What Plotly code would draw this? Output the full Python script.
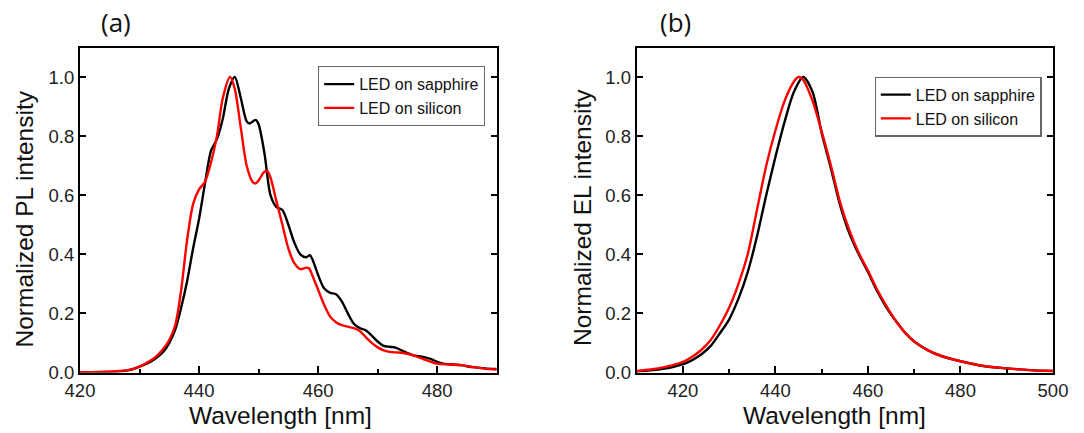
import plotly.graph_objects as go

# ---------------- data ----------------
series_names = ["LED on sapphire", "LED on silicon"]
panel_labels = ["(a)", "(b)"]
x_title = "Wavelength [nm]"
y_titles = ["Normalized PL intensity", "Normalized EL intensity"]

pl_wl_sapphire = [420, 422, 424, 426, 428, 429, 430, 431, 432, 433, 434, 435, 436, 437, 438, 439,
                  440, 441, 442, 443, 444, 445, 446, 447, 448, 448.5, 449.5, 450, 451, 452, 453,
                  454, 455, 456, 457, 458, 458.6, 459, 460, 461, 462, 463, 464, 465, 466, 467,
                  468, 469, 470, 471, 472, 473, 474, 475, 476, 477, 478, 479, 480, 481, 482,
                  484, 486, 488, 490]
pl_sapphire = [0.0, 0.001, 0.002, 0.003, 0.007, 0.012, 0.02, 0.028, 0.038, 0.052, 0.07, 0.1,
               0.145, 0.22, 0.31, 0.42, 0.52, 0.64, 0.75, 0.79, 0.86, 0.96, 1.0, 0.93, 0.85,
               0.843, 0.855, 0.84, 0.74, 0.6, 0.56, 0.55, 0.5, 0.44, 0.40, 0.39, 0.397, 0.385,
               0.33, 0.285, 0.27, 0.265, 0.24, 0.2, 0.165, 0.15, 0.143, 0.125, 0.105, 0.09,
               0.087, 0.084, 0.075, 0.066, 0.058, 0.055, 0.051, 0.045, 0.036, 0.03, 0.028,
               0.025, 0.018, 0.014, 0.012]

pl_wl_silicon = [420, 422, 424, 426, 428, 429, 430, 431, 432, 433, 434, 435, 436, 437, 438, 439,
                 440, 441, 442, 443, 444, 445.2, 446, 447, 448, 449, 449.5, 450, 451, 451.5, 452,
                 453, 454, 455, 456, 457, 458, 458.5, 459, 460, 461, 462, 463, 464, 465, 466,
                 467, 468, 469, 470, 471, 472, 473, 474, 475, 476, 477, 478, 479, 480, 482,
                 484, 486, 488, 490]
pl_silicon = [0.0, 0.001, 0.002, 0.004, 0.008, 0.013, 0.02, 0.03, 0.042, 0.058, 0.08, 0.11,
              0.16, 0.28, 0.45, 0.57, 0.62, 0.645, 0.71, 0.8, 0.93, 1.0, 0.96, 0.83, 0.7,
              0.645, 0.64, 0.65, 0.68, 0.681, 0.66, 0.58, 0.5, 0.42, 0.37, 0.35, 0.355, 0.352,
              0.33, 0.28, 0.23, 0.19, 0.17, 0.16, 0.155, 0.15, 0.14, 0.12, 0.1, 0.085, 0.075,
              0.07, 0.068, 0.067, 0.063, 0.058, 0.05, 0.043, 0.036, 0.03, 0.027, 0.025,
              0.018, 0.013, 0.01]

el_wl_sapphire = [410, 413, 416, 418, 420, 422, 424, 426, 428, 430, 432, 434, 436, 438, 440,
                  442, 444, 446, 448, 450, 452, 454, 456, 458, 460, 462, 464, 466, 468, 470,
                  473, 476, 480, 485, 490, 495, 500]
el_sapphire = [0.003, 0.007, 0.013, 0.019, 0.028, 0.042, 0.062, 0.09, 0.133, 0.18, 0.25, 0.34,
               0.46, 0.6, 0.73, 0.85, 0.95, 1.0, 0.95, 0.81, 0.69, 0.565, 0.47, 0.40, 0.34,
               0.275, 0.22, 0.175, 0.135, 0.105, 0.075, 0.055, 0.038, 0.022, 0.014, 0.008,
               0.005]

el_wl_silicon = [410, 413, 416, 418, 420, 422, 424, 426, 428, 430, 432, 434, 436, 438, 440,
                 442, 444, 445, 446, 448, 450, 452, 454, 456, 458, 460, 462, 464, 466, 468,
                 470, 473, 476, 480, 485, 490, 495, 500]
el_silicon = [0.005, 0.01, 0.018, 0.026, 0.036, 0.053, 0.077, 0.11, 0.16, 0.22, 0.3, 0.4,
              0.55, 0.7, 0.82, 0.92, 0.985, 1.0, 0.99, 0.92, 0.815, 0.70, 0.575, 0.48, 0.405,
              0.345, 0.28, 0.225, 0.175, 0.135, 0.105, 0.075, 0.055, 0.038, 0.022, 0.014,
              0.008, 0.005]

x_ranges = [[420, 490], [410, 500]]
y_range = [0, 1.1]
y_ticks = [0.0, 0.2, 0.4, 0.6, 0.8, 1.0]

# ---------------- figure ----------------
W, H = 1084, 433
def px(x): return x / W
def py(y): return 1 - y / H

colors = ["#000000", "#ff0000"]
FONT = "Liberation Sans"

fig = go.Figure()
fig.add_trace(go.Scatter(x=pl_wl_sapphire, y=pl_sapphire, name=series_names[0], mode="lines",
                         line=dict(color=colors[0], width=2.4, shape="spline", smoothing=0.8),
                         xaxis="x", yaxis="y", legend="legend"))
fig.add_trace(go.Scatter(x=pl_wl_silicon, y=pl_silicon, name=series_names[1], mode="lines",
                         line=dict(color=colors[1], width=2.4, shape="spline", smoothing=0.8),
                         xaxis="x", yaxis="y", legend="legend"))
fig.add_trace(go.Scatter(x=el_wl_sapphire, y=el_sapphire, name=series_names[0], mode="lines",
                         line=dict(color=colors[0], width=2.4, shape="spline", smoothing=0.8),
                         xaxis="x2", yaxis="y2", legend="legend2"))
fig.add_trace(go.Scatter(x=el_wl_silicon, y=el_silicon, name=series_names[1], mode="lines",
                         line=dict(color=colors[1], width=2.4, shape="spline", smoothing=0.8),
                         xaxis="x2", yaxis="y2", legend="legend2"))

ydom = [py(372.5), py(47.5)]
xdoms = [[px(80), px(496.7)], [px(636.7), px(1053)]]

def xaxis_cfg(i):
    return dict(domain=xdoms[i], range=x_ranges[i], showline=True, linecolor="black",
                linewidth=2, mirror=True, ticks="inside", ticklen=7, tickwidth=1.6,
                tickcolor="black", dtick=20, tick0=420, showgrid=False, zeroline=False,
                automargin=False,
                tickfont=dict(family=FONT, size=18.5, color="#222"),
                minor=dict(dtick=10, tick0=420, ticks="inside", ticklen=4, tickwidth=1.6,
                           tickcolor="black", showgrid=False),
                anchor="y" if i == 0 else "y2")

def yaxis_cfg(i):
    return dict(domain=ydom, range=y_range, showline=True, linecolor="black", linewidth=2,
                mirror="ticks", ticks="inside", ticklen=6, tickwidth=1.6, tickcolor="black",
                tickvals=y_ticks, tickformat=".1f", showgrid=False, zeroline=False,
                automargin=False,
                tickfont=dict(family=FONT, size=18.5, color="#222"),
                anchor="x" if i == 0 else "x2")

legend_common = dict(font=dict(family=FONT, size=16, color="#111"), bgcolor="white",
                     bordercolor="#666", borderwidth=1.2, xanchor="right", yanchor="top",
                     tracegroupgap=0, itemclick=False)

fig.update_layout(
    template="none",
    width=W, height=H, margin=dict(l=0, r=0, t=0, b=0, autoexpand=False),
    paper_bgcolor="white", plot_bgcolor="white",
    font=dict(family=FONT, color="#111"),
    xaxis=xaxis_cfg(0), yaxis=yaxis_cfg(0),
    xaxis2=xaxis_cfg(1), yaxis2=yaxis_cfg(1),
    legend=dict(x=px(485), y=py(66), **legend_common),
    legend2=dict(x=px(1041.6), y=py(76.5), **legend_common),
    showlegend=True,
)

annos = []
for cx in [280, 835]:
    annos.append(dict(text=x_title, x=px(cx), y=py(415), xref="paper", yref="paper",
                      xanchor="center", yanchor="middle", showarrow=False,
                      font=dict(family=FONT, size=24.5, color="#111")))
for cx, cy, t in [(24, 219.5, y_titles[0]), (582, 218, y_titles[1])]:
    annos.append(dict(text=t, x=px(cx), y=py(cy), xref="paper", yref="paper",
                      xanchor="center", yanchor="middle", showarrow=False, textangle=-90,
                      font=dict(family=FONT, size=24.5, color="#111")))
for cx, t in [(116, panel_labels[0]), (675, panel_labels[1])]:
    annos.append(dict(text=t, x=px(cx), y=py(22.5), xref="paper", yref="paper",
                      xanchor="center", yanchor="middle", showarrow=False,
                      font=dict(family="Open Sans", size=26, color="#111")))
fig.update_layout(annotations=annos)

fig.write_html("out.html", config={"displayModeBar": False},
               post_script="document.body.style.margin='0';document.body.style.overflow='hidden';")
